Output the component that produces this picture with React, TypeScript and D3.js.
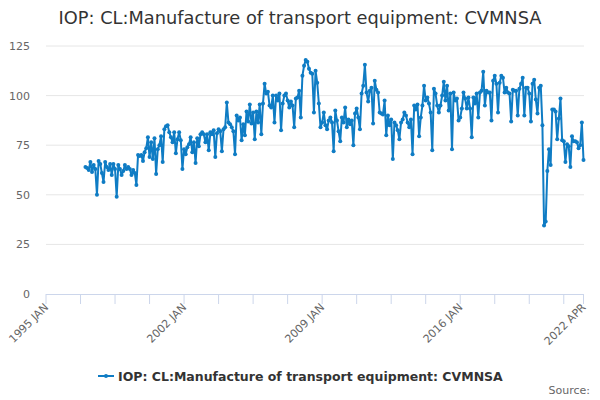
import * as d3 from "d3";

const title = "IOP: CL:Manufacture of transport equipment: CVMNSA";
const monthNames = ["JAN", "FEB", "MAR", "APR", "MAY", "JUN", "JUL", "AUG", "SEP", "OCT", "NOV", "DEC"];
const axisStartYear = 1995;
const lastCategory = 327; // 2022 APR
const firstDataCategory = 24; // 1997 JAN
const tickStep = 21;
const labelCategories = [0, 84, 168, 252, 327];
const yTicks = [0, 25, 50, 75, 100, 125];

// monthly index values, Jan..Dec
const y1997 = [64, 63.5, 62.5, 66.5, 61.5, 65, 63, 50, 67, 65.5, 61, 56.5];
const y1998 = [66.5, 64, 62.5, 65.5, 60, 65.5, 63, 49, 65, 63, 60, 62];
const y1999 = [65, 63, 64, 63, 60, 62.5, 61, 55, 70, 69.5, 70, 67];
const y2000 = [71.5, 73.5, 79, 69, 76.5, 68, 78.5, 60.5, 73, 75, 79.5, 66.5];
const y2001 = [83, 84.5, 85, 81.5, 79, 76.5, 81.5, 71, 78, 81.5, 77.5, 63];
const y2002 = [73, 70.5, 74, 75.5, 79, 71.5, 76.5, 66, 78.5, 74.5, 80.5, 81.5];
const y2003 = [80.5, 76.5, 80.5, 72.5, 81.5, 80.5, 82.5, 69, 81, 83, 82, 72];
const y2004 = [83, 84, 96.5, 86.5, 85.5, 84, 82, 70.5, 90, 87.5, 89, 77.5];
const y2005 = [85.5, 80, 92, 87, 95.5, 86, 91.5, 78, 92, 86.5, 95.5, 80.5];
const y2006 = [96, 106, 101, 102, 95, 94, 100, 86.5, 100, 97.5, 101, 82.5];
const y2007 = [96, 100, 101, 97.5, 94, 97, 95, 84, 98.5, 99, 102.5, 89];
const y2008 = [110, 115, 118, 117, 113.5, 111.5, 111, 91.5, 112.5, 106.5, 96, 84];
const y2009 = [86.5, 91.5, 85, 83, 87.5, 89, 86.5, 72, 92.5, 87.5, 82, 77];
const y2010 = [89, 86.5, 94, 84, 88, 85.5, 87.5, 75, 91, 93.5, 89, 83];
const y2011 = [101, 105, 115.5, 101.5, 97, 102.5, 104, 86, 107.5, 103, 101.5, 91.5];
const y2012 = [91, 90.5, 97.5, 80, 90, 85, 88, 68, 86.5, 85, 82.5, 78];
const y2013 = [86.5, 88, 91.5, 90, 86.5, 84, 88, 70.5, 95, 93, 95.5, 79.5];
const y2014 = [89, 95, 105, 97.5, 99, 96, 91.5, 72.5, 103.5, 101, 95, 91.5];
const y2015 = [95, 100, 107, 97.5, 105, 92.5, 101, 73, 101.5, 97.5, 98.5, 87.5];
const y2016 = [89, 93.5, 101.5, 98.5, 93.5, 99, 93.5, 79, 99, 96, 101, 89];
const y2017 = [101.5, 102.5, 112, 95, 102.5, 101.5, 101.5, 87.5, 107.5, 110, 106, 91.5];
const y2018 = [106.5, 110, 109, 101.5, 104, 101.5, 101, 87, 103, 102.5, 102.5, 90];
const y2019 = [103.5, 106, 109, 90, 104, 104, 101, 87, 106, 108, 98, 91];
const y2020 = [104, 105, 85, 34.5, 36.5, 62, 73, 65, 93, 93, 92, 78];
const y2021 = [88.5, 98.5, 77.5, 77, 66.5, 75.5, 74.5, 64, 79.5, 77, 77, 76.5];
const y2022 = [73.5, 75, 86.5, 67.5];

const values = [
  ...y1997, ...y1998, ...y1999, ...y2000, ...y2001, ...y2002, ...y2003,
  ...y2004, ...y2005, ...y2006, ...y2007, ...y2008, ...y2009, ...y2010,
  ...y2011, ...y2012, ...y2013, ...y2014, ...y2015, ...y2016, ...y2017,
  ...y2018, ...y2019, ...y2020, ...y2021, ...y2022,
];

const data = values.map((v, i) => ({ idx: firstDataCategory + i, v }));

const categoryLabel = (i: number) =>
  `${axisStartYear + Math.floor(i / 12)} ${monthNames[i % 12]}`;

const W = 600, H = 400;
const blue = "#0f7cc4";
const font = "'DejaVu Sans', Verdana, sans-serif";

const App = () => {
  const x = d3.scaleLinear().domain([0, lastCategory]).range([46, 583.5]);
  const y = d3.scaleLinear().domain([0, 125]).range([294, 46]);

  const line = d3.line<any>()
    .x(d => x(d.idx))
    .y(d => y(d.v));

  const ticks = d3.range(0, lastCategory, tickStep).concat([lastCategory]);

  return (
    <svg width={W} height={H} style={{ position: "absolute", left: 0, top: 0, background: "#fff" }}
      fontFamily={font}>
      <text x={300} y={24} textAnchor="middle" fontSize={17.8} fill="#333">{title}</text>

      {/* grid + y labels */}
      {yTicks.map(t => (
        <g key={t}>
          {t > 0 && <line x1={46} x2={584} y1={y(t)} y2={y(t)} stroke="#e6e6e6" strokeWidth={1} />}
          <text x={30} y={y(t) + 4} textAnchor="end" fontSize={11} fill="#666">{t}</text>
        </g>
      ))}

      {/* x axis */}
      <line x1={46} x2={584} y1={294.5} y2={294.5} stroke="#ccd6eb" strokeWidth={1} />
      {ticks.map(t => (
        <line key={t} x1={x(t)} x2={x(t)} y1={294} y2={304} stroke="#ccd6eb" strokeWidth={1} />
      ))}
      {labelCategories.map(c => (
        <text key={c} transform={`translate(${x(c) + 3},${308}) rotate(-45)`} textAnchor="end"
          fontSize={11} fill="#666">{categoryLabel(c)}</text>
      ))}

      {/* series */}
      <path d={line(data) || ""} fill="none" stroke={blue} strokeWidth={2} strokeLinejoin="round" />
      {data.map(d => (
        <circle key={d.idx} cx={x(d.idx)} cy={y(d.v)} r={2} fill={blue} />
      ))}

      {/* legend */}
      <g transform="translate(0,376)">
        <line x1={98} x2={114} y1={0} y2={0} stroke={blue} strokeWidth={2} />
        <circle cx={106} cy={0} r={2} fill={blue} />
        <text x={118} y={4.5} fontSize={12.5} fontWeight="bold" fill="#333">{title}</text>
      </g>

      <text x={590} y={394} textAnchor="end" fontSize={11} fill="#666">Source:</text>
    </svg>
  );
};

export default App;
